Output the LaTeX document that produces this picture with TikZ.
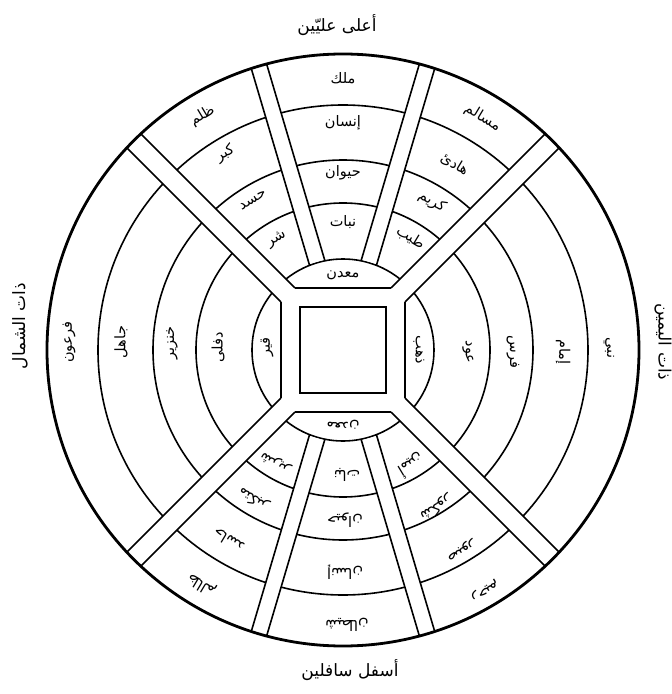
\documentclass[tikz,border=0pt]{standalone}
\usepackage{fontspec}
\newfontfamily\arabicfont[Script=Arabic]{DejaVu Sans}
\TeXXeTstate=1
\newcommand\artxt[1]{\beginR #1\endR}
\tikzset{
  ring/.style={line width=1.6pt},
  rim/.style={line width=2.8pt},
  lbl/.style={font=\arabicfont\fontsize{14.5}{16}\selectfont, inner sep=0pt},
  ttl/.style={font=\arabicfont\fontsize{17}{19}\selectfont, inner sep=0pt},
}
\begin{document}
\begin{tikzpicture}[x=1pt,y=1pt]
\useasboundingbox[fill=white] (-343,-344) rectangle (329,350);
% ring lines
\foreach \r in {91,147,190,245} {\draw[ring] (0,0) circle[radius=\r pt];}
% white gap and bands
\begin{scope}
\clip (0,0) circle[radius=296pt];
\fill[white] (-62,-62) rectangle (62,62);
\foreach \a in {45,135,225,315} {\fill[white,rotate=\a] (0,-9.9) rectangle (300,9.9);}
\foreach \a in {73.5,106.5,253.5,286.5} {\fill[white,rotate=\a] (91.9,-8) rectangle (300,8);}
\end{scope}
% band edges
\foreach \a in {45,135,225,315} {\draw[ring,rotate=\a] (77.8,9.9) -- (295.8,9.9) (77.8,-9.9) -- (295.8,-9.9);}
\foreach \a in {73.5,106.5,253.5,286.5} {\draw[ring,rotate=\a] (90.6,8) -- (295.9,8) (90.6,-8) -- (295.9,-8);}
% inner octagon sides
\draw[ring] (-48,62) -- (48,62) (-48,-62) -- (48,-62) (62,-48) -- (62,48) (-62,-48) -- (-62,48);
% central square
\draw[line width=2.3pt] (-43,-43) rectangle (43,43);
% rim
\draw[rim] (0,0) circle[radius=296pt];

% titles
\node[ttl] (top) at (-6,325) {\artxt{أعلى عليّين}};
\node[ttl] (bot) at (7,-320) {\artxt{أسفل سافلين}};
\node[ttl,rotate=90] (lft) at (-323,24) {\artxt{ذات الشمال}};
\node[ttl,rotate=-90] (rgt) at (320,8) {\artxt{ذات اليمين}};

% top centre column
\node[lbl] (tc1) at (0,272) {\artxt{ملك}};
\node[lbl] (tc2) at (0,227) {\artxt{إنسان}};
\node[lbl] (tc3) at (0,177) {\artxt{حيوان}};
\node[lbl] (tc4) at (0,128) {\artxt{نبات}};
\node[lbl] (tc5) at (0,75) {\artxt{معدن}};
% top left
\node[lbl,rotate=31] (tl1) at (121:273pt) {\artxt{ظلم}};
\node[lbl,rotate=31] (tl2) at (121:229pt) {\artxt{كبر}};
\node[lbl,rotate=31] (tl3) at (121:175pt) {\artxt{حسد}};
\node[lbl,rotate=31] (tl4) at (121:129pt) {\artxt{شر}};
% top right
\node[lbl,rotate=-31] (tr1) at (59:271pt) {\artxt{مسالم}};
\node[lbl,rotate=-31] (tr2) at (59:217pt) {\artxt{هادئ}};
\node[lbl,rotate=-31] (tr3) at (59:173pt) {\artxt{كريم}};
\node[lbl,rotate=-31] (tr4) at (59:131pt) {\artxt{طيب}};
% west
\node[lbl,rotate=90] (w1) at (-274,8) {\artxt{فرعون}};
\node[lbl,rotate=90] (w2) at (-222,8) {\artxt{جاهل}};
\node[lbl,rotate=90] (w3) at (-171,7) {\artxt{خنزير}};
\node[lbl,rotate=90] (w4) at (-125,3) {\artxt{دفلى}};
\node[lbl,rotate=90] (w5) at (-76,3) {\artxt{قير}};
% east
\node[lbl,rotate=-90] (e1) at (76,0) {\artxt{ذهب}};
\node[lbl,rotate=-90] (e2) at (125,-2) {\artxt{عود}};
\node[lbl,rotate=-90] (e3) at (170,-2) {\artxt{فرس}};
\node[lbl,rotate=-90] (e4) at (220,-2) {\artxt{إمام}};
\node[lbl,rotate=-90] (e5) at (266,2) {\artxt{نبي}};
% bottom centre
\node[lbl,rotate=180] (bc5) at (0,-75) {\artxt{معدن}};
\node[lbl,rotate=180] (bc4) at (4,-125) {\artxt{نبات}};
\node[lbl,rotate=180] (bc3) at (2,-170) {\artxt{حيوان}};
\node[lbl,rotate=180] (bc2) at (2,-222) {\artxt{إنسان}};
\node[lbl,rotate=180] (bc1) at (4,-275) {\artxt{شيطان}};
% bottom left
\node[lbl,rotate=149] (bl4) at (239:131pt) {\artxt{شرير}};
\node[lbl,rotate=149] (bl3) at (239:174pt) {\artxt{متكبر}};
\node[lbl,rotate=149] (bl2) at (239:222pt) {\artxt{حاسد}};
\node[lbl,rotate=149] (bl1) at (239:274pt) {\artxt{ظالم}};
% bottom right
\node[lbl,rotate=211] (br4) at (300.5:134pt) {\artxt{أمين}};
\node[lbl,rotate=211] (br3) at (300.5:183pt) {\artxt{شكور}};
\node[lbl,rotate=211] (br2) at (300.5:232pt) {\artxt{صبور}};
\node[lbl,rotate=211] (br1) at (300.5:279pt) {\artxt{رحيم}};
\end{tikzpicture}
\end{document}
